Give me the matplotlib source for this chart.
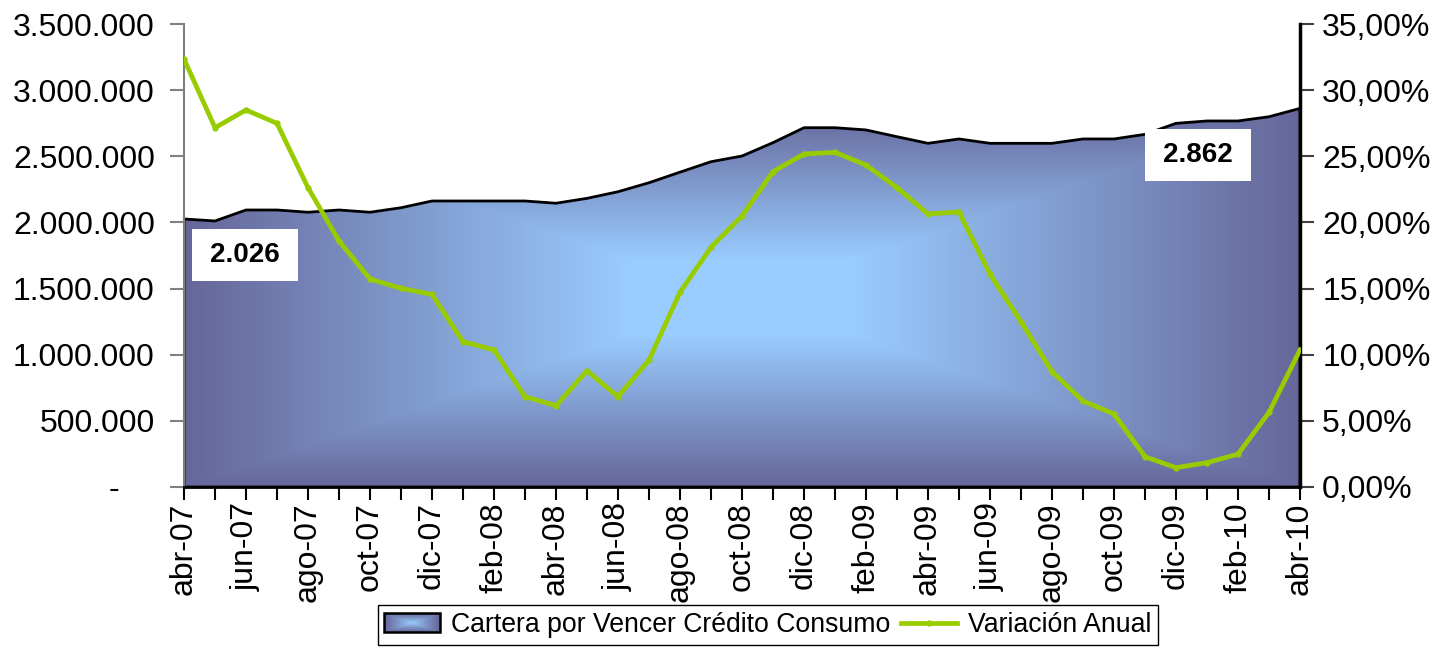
import numpy as np
import matplotlib
matplotlib.use('Agg')
import matplotlib.pyplot as plt
from matplotlib.patches import Polygon, Rectangle, Patch
from matplotlib.legend_handler import HandlerBase
from matplotlib.lines import Line2D
from matplotlib.ticker import FuncFormatter

plt.rcParams['font.family'] = ['Liberation Sans', 'DejaVu Sans']

meses = ['abr-07', 'may-07', 'jun-07', 'jul-07', 'ago-07', 'sep-07', 'oct-07', 'nov-07', 'dic-07',
         'ene-08', 'feb-08', 'mar-08', 'abr-08', 'may-08', 'jun-08', 'jul-08', 'ago-08', 'sep-08',
         'oct-08', 'nov-08', 'dic-08', 'ene-09', 'feb-09', 'mar-09', 'abr-09', 'may-09', 'jun-09',
         'jul-09', 'ago-09', 'sep-09', 'oct-09', 'nov-09', 'dic-09', 'ene-10', 'feb-10', 'mar-10',
         'abr-10']

cartera = [2026000, 2011000, 2094000, 2094000, 2077000, 2094000, 2077000, 2111000, 2162000,
           2162000, 2162000, 2162000, 2145000, 2182000, 2232000, 2300000, 2380000, 2459000,
           2502000, 2603000, 2716000, 2716000, 2699000, 2648000, 2598000, 2631000, 2598000,
           2598000, 2598000, 2631000, 2631000, 2666000, 2749000, 2767000, 2767000, 2799000,
           2862000]

variacion = [32.35, 27.16, 28.50, 27.49, 22.63, 18.60, 15.72, 15.02, 14.56, 10.99, 10.36, 6.83,
             6.15, 8.79, 6.83, 9.60, 14.72, 18.12, 20.49, 23.84, 25.17, 25.30, 24.34, 22.63,
             20.64, 20.79, 16.10, 12.50, 8.72, 6.50, 5.52, 2.29, 1.46, 1.84, 2.49, 5.64, 10.36]

serie_area = 'Cartera por Vencer Crédito Consumo'
serie_linea = 'Variación Anual'

CENTER = np.array([153, 204, 255]) / 255
EDGE = np.array([102, 102, 153]) / 255
GREEN = '#99CC00'
FS = 23

fig = plt.figure(figsize=(14.36, 6.49), dpi=100)
ax = fig.add_axes([184 / 1436, 1 - 487 / 649, 1116 / 1436, 463 / 649])
ax2 = ax.twinx()

x = np.arange(len(meses))
vals = np.array(cartera, dtype=float)

# gradient fill (rectangular "from centre" gradient) clipped to area
nx, ny = 900, 400
GX, GY = np.meshgrid(np.linspace(-1, 1, nx), np.linspace(-1, 1, ny))
t = np.maximum(np.abs(GX), np.abs(GY))
f = np.clip((t - 0.2) / 0.8, 0, 1)
img = CENTER + (EDGE - CENTER) * f[..., None]
im = ax.imshow(img, extent=[x[0], x[-1], 0, vals.max()], origin='lower', aspect='auto',
               interpolation='bilinear', zorder=1)
poly = Polygon(np.column_stack([np.r_[x, x[-1], x[0]], np.r_[vals, 0, 0]]), closed=True,
               facecolor='none', edgecolor='black', lw=2, zorder=2, joinstyle='round')
ax.add_patch(poly)
im.set_clip_path(poly)

ax.set_xlim(x[0], x[-1])
ax.set_ylim(0, 3500000)
ax.set_yticks(np.arange(0, 3500001, 500000))

def fmt_left(v, pos):
    if v == 0:
        return '-    '
    return f'{v:,.0f}'.replace(',', '.')

ax.yaxis.set_major_formatter(FuncFormatter(fmt_left))
ax.set_xticks(x)
ax.set_xticklabels([m if i % 2 == 0 else '' for i, m in enumerate(meses)], rotation=90)
ax.tick_params(axis='y', direction='out', length=10, width=1.5, color='#808080',
               labelsize=FS, pad=11)
ax.tick_params(axis='x', direction='out', length=9, width=1.5, color='black',
               labelsize=FS, pad=2)

# line on right axis
ax2.plot(x, np.array(variacion) / 100, color=GREEN, lw=3.4, marker='o', ms=3.5, zorder=3)
ax2.set_ylim(0, 0.35)
ax2.set_yticks(np.arange(0, 0.3501, 0.05))
ax2.yaxis.set_major_formatter(FuncFormatter(lambda v, p: f'{v*100:.2f}%'.replace('.', ',')))
ax2.tick_params(axis='y', direction='out', length=10, width=1.5, color='#404040',
                labelsize=FS, pad=6)

for sp in ['top', 'right']:
    ax.spines[sp].set_visible(False)
ax.spines['left'].set_color('#808080')
ax.spines['left'].set_linewidth(1.5)
ax.spines['bottom'].set_color('black')
ax.spines['bottom'].set_linewidth(2)
for sp in ['top', 'left', 'bottom']:
    ax2.spines[sp].set_visible(False)
ax2.spines['right'].set_color('black')
ax2.spines['right'].set_linewidth(2.5)

# data label boxes
def label_box(x0, y0, w, h, text):
    ax2.add_patch(Rectangle((x0, y0), w, h, transform=ax2.transAxes, fc='white', ec='none',
                            zorder=4))
    ax2.text(x0 + w / 2, y0 + h / 2, text, transform=ax2.transAxes, ha='center', va='center',
             fontsize=20, fontweight='bold', zorder=5)

fmt_k = lambda v: f'{v/1000:,.0f}'.replace(',', '.')
label_box(0.0072, 0.445, 0.095, 0.112, fmt_k(cartera[0]))
label_box(0.861, 0.661, 0.095, 0.112, fmt_k(cartera[-1]))

# legend
class GradHandler(HandlerBase):
    def create_artists(self, legend, orig_handle, xdescent, ydescent, width, height,
                       fontsize, trans):
        arts = []
        n = 14
        for k in range(n):
            fr = k / n
            dx = width * 0.5 * fr
            dy = height * 0.5 * fr
            col = EDGE + (CENTER - EDGE) * fr
            arts.append(Rectangle((-xdescent + dx, -ydescent + dy), width - 2 * dx,
                                  height - 2 * dy, fc=col, ec='none', transform=trans))
        arts.append(Rectangle((-xdescent, -ydescent), width, height, fc='none', ec='black',
                              lw=1.8, transform=trans))
        return arts

proxy = Patch(facecolor=CENTER)
line_h = Line2D([], [], color=GREEN, lw=3.4, marker='o', ms=3.5)
leg = fig.legend([proxy, line_h], [serie_area, serie_linea], loc='center',
                 bbox_to_anchor=(0.5345, 0.037), ncol=2, frameon=True, fancybox=False,
                 edgecolor='black', fontsize=19.2, handlelength=2.1, handletextpad=0.4,
                 columnspacing=0.4, borderpad=0.25, borderaxespad=0,
                 handler_map={proxy: GradHandler()})
leg.get_frame().set_linewidth(1)
leg.get_frame().set_alpha(1)

fig.savefig('out.png', dpi=100)
